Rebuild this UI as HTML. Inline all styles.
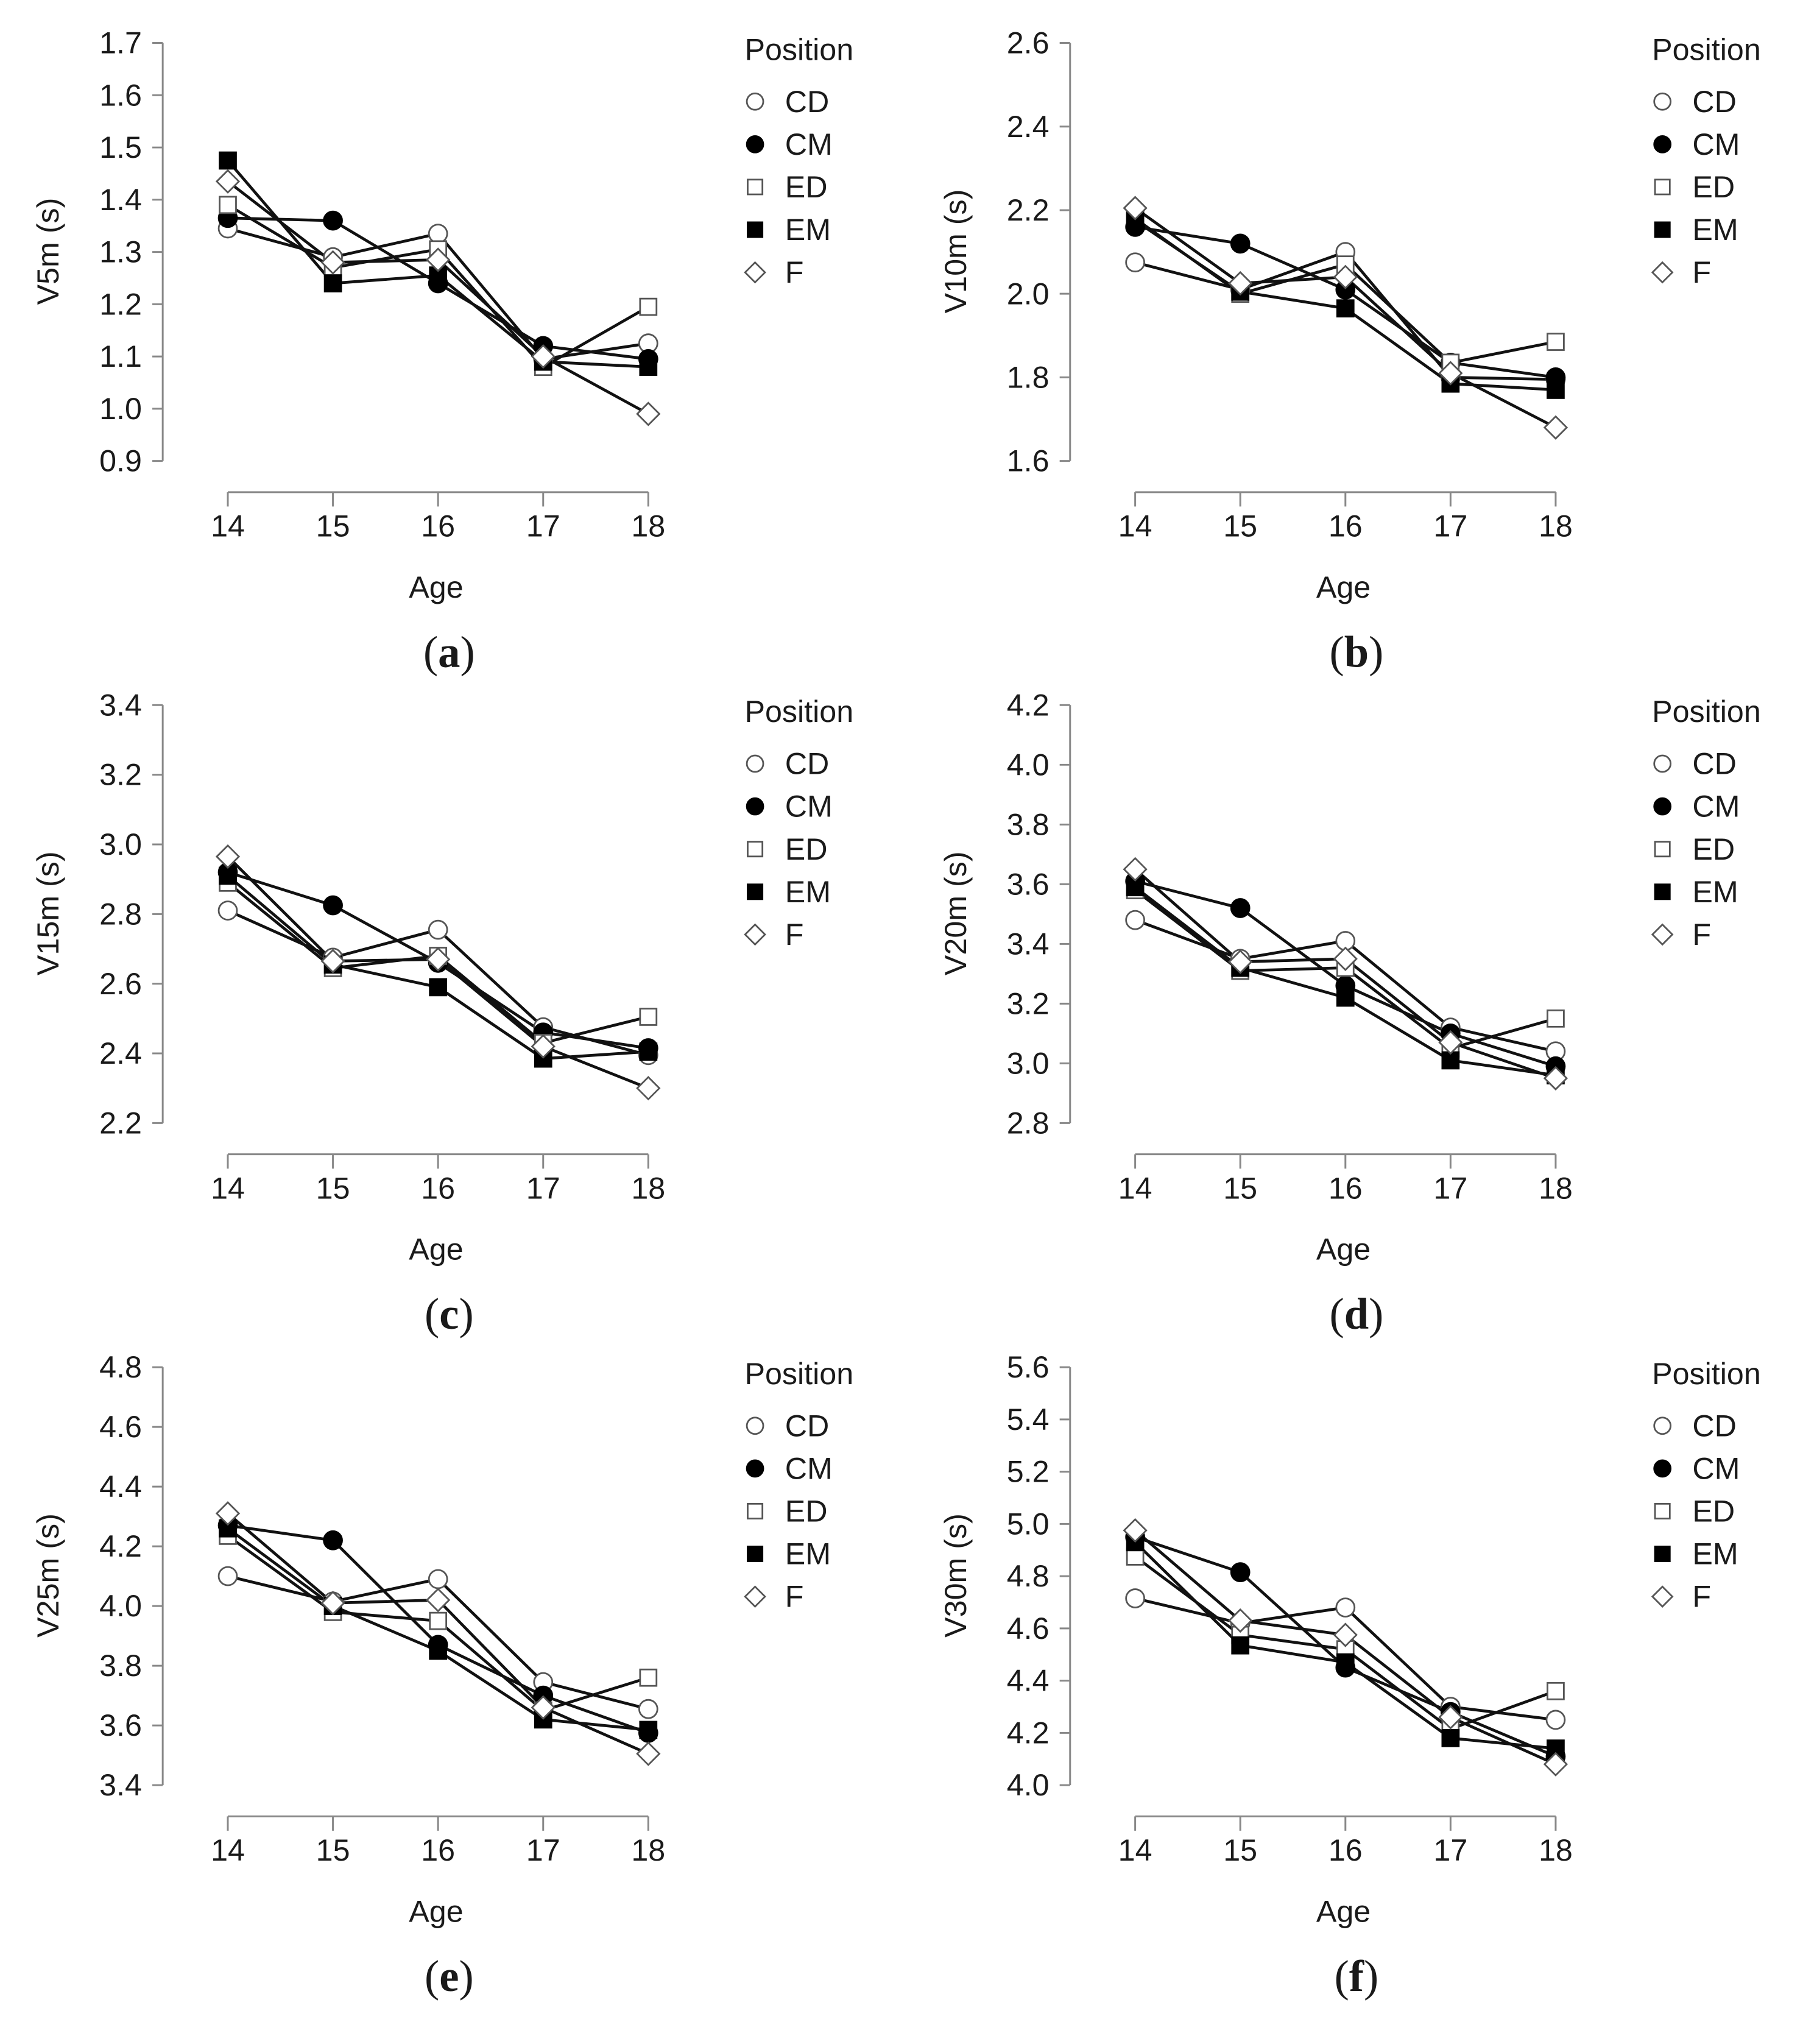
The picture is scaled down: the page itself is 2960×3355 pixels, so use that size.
<!DOCTYPE html>
<html><head><meta charset="utf-8"><style>
html,body{margin:0;padding:0;background:#fff;}
svg{display:block;}
text{font-family:"Liberation Sans",Arial,sans-serif;fill:#1a1a1a;}
.cap{font-family:"Liberation Serif","Times New Roman",serif;}
</style></head><body>
<svg id="fig" width="2960" height="3355" viewBox="0 0 1385 1569.8" xmlns="http://www.w3.org/2000/svg"></svg>
<script>
const ages = [14, 15, 16, 17, 18];
const positions = ["CD", "CM", "ED", "EM", "F"];
const panelTitles = ["V5m (s)", "V10m (s)", "V15m (s)", "V20m (s)", "V25m (s)", "V30m (s)"];
const panelLetters = ["a", "b", "c", "d", "e", "f"];
const yMins = [0.9, 1.6, 2.2, 2.8, 3.4, 4.0];
const yMaxs = [1.7, 2.6, 3.4, 4.2, 4.8, 5.6];
const yTicksA = ["0.9","1.0","1.1","1.2","1.3","1.4","1.5","1.6","1.7"];
const yTicksB = ["1.6","1.8","2.0","2.2","2.4","2.6"];
const yTicksC = ["2.2","2.4","2.6","2.8","3.0","3.2","3.4"];
const yTicksD = ["2.8","3.0","3.2","3.4","3.6","3.8","4.0","4.2"];
const yTicksE = ["3.4","3.6","3.8","4.0","4.2","4.4","4.6","4.8"];
const yTicksF = ["4.0","4.2","4.4","4.6","4.8","5.0","5.2","5.4","5.6"];
const v5CD = [1.345, 1.29, 1.335, 1.095, 1.125];
const v5CM = [1.365, 1.36, 1.24, 1.12, 1.095];
const v5ED = [1.39, 1.27, 1.305, 1.08, 1.195];
const v5EM = [1.475, 1.24, 1.255, 1.09, 1.08];
const v5F  = [1.435, 1.28, 1.285, 1.10, 0.99];
const v10CD = [2.075, 2.01, 2.10, 1.80, 1.795];
const v10CM = [2.16, 2.12, 2.01, 1.835, 1.80];
const v10ED = [2.18, 2.00, 2.07, 1.835, 1.885];
const v10EM = [2.175, 2.005, 1.965, 1.785, 1.77];
const v10F  = [2.205, 2.025, 2.04, 1.81, 1.68];
const v15CD = [2.81, 2.675, 2.755, 2.475, 2.395];
const v15CM = [2.92, 2.825, 2.66, 2.46, 2.415];
const v15ED = [2.89, 2.645, 2.68, 2.43, 2.505];
const v15EM = [2.91, 2.655, 2.59, 2.385, 2.405];
const v15F  = [2.965, 2.665, 2.67, 2.42, 2.30];
const v20CD = [3.48, 3.35, 3.41, 3.12, 3.04];
const v20CM = [3.61, 3.52, 3.26, 3.10, 2.99];
const v20ED = [3.58, 3.31, 3.32, 3.05, 3.15];
const v20EM = [3.59, 3.32, 3.22, 3.01, 2.96];
const v20F  = [3.65, 3.34, 3.35, 3.07, 2.95];
const v25CD = [4.10, 4.015, 4.09, 3.745, 3.655];
const v25CM = [4.27, 4.22, 3.87, 3.70, 3.575];
const v25ED = [4.235, 3.98, 3.95, 3.65, 3.76];
const v25EM = [4.26, 4.00, 3.85, 3.62, 3.585];
const v25F  = [4.31, 4.01, 4.02, 3.66, 3.505];
const v30CD = [4.715, 4.62, 4.68, 4.30, 4.25];
const v30CM = [4.95, 4.815, 4.45, 4.28, 4.11];
const v30ED = [4.875, 4.575, 4.52, 4.215, 4.36];
const v30EM = [4.93, 4.535, 4.47, 4.18, 4.14];
const v30F  = [4.975, 4.63, 4.575, 4.26, 4.08];

const panelSeries = [
  [v5CD, v5CM, v5ED, v5EM, v5F],
  [v10CD, v10CM, v10ED, v10EM, v10F],
  [v15CD, v15CM, v15ED, v15EM, v15F],
  [v20CD, v20CM, v20ED, v20EM, v20F],
  [v25CD, v25CM, v25ED, v25EM, v25F],
  [v30CD, v30CM, v30ED, v30EM, v30F]
];
const panelTicks = [yTicksA, yTicksB, yTicksC, yTicksD, yTicksE, yTicksF];

const NS = "http://www.w3.org/2000/svg";
const svg = document.getElementById("fig");
function mk(tag, attrs, parent) {
  const e = document.createElementNS(NS, tag);
  for (const k in attrs) e.setAttribute(k, attrs[k]);
  parent.appendChild(e);
  return e;
}
function marker(g, kind, x, y, s) {
  let m;
  if (kind === "CD" || kind === "CM") {
    m = mk("circle", {cx: x, cy: y, r: 7 * s, fill: kind === "CM" ? "#000" : "#fff", stroke: kind === "CM" ? "#000" : "#555", "stroke-width": 1.3}, g);
  } else if (kind === "ED" || kind === "EM") {
    const h = 6.3 * s;
    m = mk("rect", {x: x - h, y: y - h, width: 2 * h, height: 2 * h, fill: kind === "EM" ? "#000" : "#fff", stroke: kind === "EM" ? "#000" : "#555", "stroke-width": 1.3}, g);
  } else {
    const d = 8.5 * s;
    m = mk("polygon", {points: `${x},${y-d} ${x+d},${y} ${x},${y+d} ${x-d},${y}`, fill: "#fff", stroke: "#555", "stroke-width": 1.3}, g);
  }
  return m;
}

for (let p = 0; p < 6; p++) {
  const ox = (p % 2) * 697;
  const oy = Math.floor(p / 2) * 508.5;
  const g = mk("g", {transform: `translate(${ox},${oy})`}, svg);
  
  
  const yTop = 33, yBot = 354, xL = 175, xR = 498, axX = 125, axY = 378;
  const ymin = yMins[p], ymax = yMaxs[p];
  const yS = v => yBot - (v - ymin) / (ymax - ymin) * (yBot - yTop);
  const xS = a => xL + (a - ages[0]) / (ages[ages.length - 1] - ages[0]) * (xR - xL);

  const ya = mk("g", {}, g);
  
  
  mk("line", {x1: axX, y1: yTop, x2: axX, y2: yBot, stroke: "#888", "stroke-width": 1.4}, ya);
  panelTicks[p].forEach(t => {
    const y = yS(parseFloat(t));
    mk("line", {x1: axX - 8, y1: y, x2: axX, y2: y, stroke: "#888", "stroke-width": 1.4}, ya);
    const tx = mk("text", {x: axX - 16, y: y + 8, "text-anchor": "end", "font-size": 23.5}, ya);
    tx.textContent = t;
    
    
  });
  const yt = mk("text", {x: 0, y: 0, transform: `translate(45,193) rotate(-90)`, "text-anchor": "middle", "font-size": 23.5}, g);
  yt.textContent = panelTitles[p];
  
  

  const xa = mk("g", {}, g);
  
  
  mk("line", {x1: xL, y1: axY, x2: xR, y2: axY, stroke: "#888", "stroke-width": 1.4}, xa);
  ages.forEach(a => {
    const x = xS(a);
    mk("line", {x1: x, y1: axY, x2: x, y2: axY + 11, stroke: "#888", "stroke-width": 1.4}, xa);
    const tx = mk("text", {x: x, y: 412, "text-anchor": "middle", "font-size": 23.5}, xa);
    tx.textContent = String(a);
    
    
  });
  const xt = mk("text", {x: 335, y: 459, "text-anchor": "middle", "font-size": 23.5}, g);
  xt.textContent = "Age";
  
  

  const cap = mk("text", {x: 345, y: 512, "text-anchor": "middle", "font-size": 34, "class": "cap"}, g);
  cap.innerHTML = `(<tspan font-weight="bold">${panelLetters[p]}</tspan>)`;
  
  

  panelSeries[p].forEach((ser, si) => {
    const pts = ser.map((v, i) => `${xS(ages[i])},${yS(v)}`).join(" ");
    const pl = mk("polyline", {points: pts, fill: "none", stroke: "#111", "stroke-width": 2.2}, g);
    
    
  });
  panelSeries[p].forEach((ser, si) => {
    ser.forEach((v, i) => {
      const m = marker(g, positions[si], xS(ages[i]), yS(v), 1);
      
      
    });
  });

  const lg = mk("g", {}, g);
  
  
  const lt = mk("text", {x: 572, y: 46, "font-size": 23.5}, lg);
  lt.textContent = "Position";
  
  
  positions.forEach((pos, i) => {
    const y = 78 + i * 32.8;
    const m = marker(lg, pos, 580, y, 0.9);
    
    
    const t = mk("text", {x: 603, y: y + 8, "font-size": 23.5}, lg);
    t.textContent = pos;
    
    
  });
}
</script>
</body></html>
